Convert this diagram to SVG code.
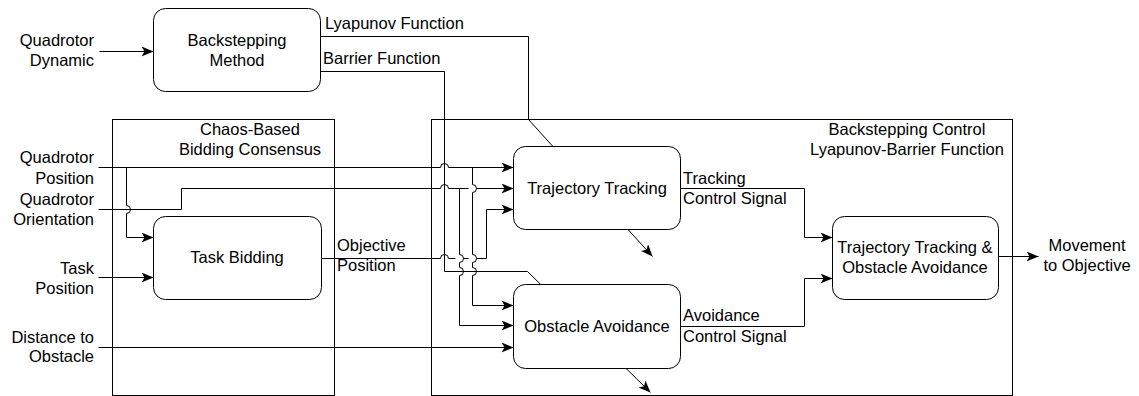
<svg xmlns="http://www.w3.org/2000/svg" width="1139" height="396" viewBox="0 0 1139 396">
<defs>
<marker id="arr" markerUnits="userSpaceOnUse" viewBox="0 0 12 10" refX="12" refY="5" markerWidth="12" markerHeight="10" orient="auto">
<path d="M0,0 L12,5 L0,10 L3,5 Z" fill="#000"/>
</marker>
<style>
.box{fill:#fff;stroke:#000;stroke-width:1}
.cont{fill:none;stroke:#000;stroke-width:1}
.e{fill:none;stroke:#000;stroke-width:1}
.a{marker-end:url(#arr)}
text{font-family:"Liberation Sans",Arial,sans-serif;font-size:16.5px;fill:#000}
.c{text-anchor:middle}
.r{text-anchor:end}
</style>
</defs>
<rect width="1139" height="396" fill="#fff"/>
<g id="chaos-container" transform="translate(0.5,0.5)">
<rect class="cont" x="112" y="119" width="222" height="276"/>
</g>
<g id="control-container" transform="translate(0.5,0.5)">
<rect class="cont" x="431" y="119" width="581" height="276"/>
</g>
<g id="connectors" transform="translate(0.5,0.5)">
<path class="e a" d="M99,51 H153"/>
<path class="e a" d="M320,36 H528 V119 L652,256"/>
<path class="e a" d="M320,71 H444 V271 H527 L650,392"/>
<path class="e a" d="M98,167 H440 A4,4 0 0 1 448,167 H513"/>
<path class="e a" d="M126,167 V205 A4,4 0 0 1 126,213 V237 H153"/>
<path class="e a" d="M472,167 V184 A4,4 0 0 1 472,192 V254 A4,4 0 0 1 472,262 V267 A4,4 0 0 1 472,275 V305 H513"/>
<path class="e a" d="M98,209 H181 V188 H440 A4,4 0 0 1 448,188 H468 M476,188 H513"/>
<path class="e a" d="M459,188 V254 A4,4 0 0 1 459,262 V267 A4,4 0 0 1 459,275 V325 H513"/>
<path class="e a" d="M321,258 H440 A4,4 0 0 1 448,258 H455 M463,258 H468 M476,258 H486 V209 H513"/>
<path class="e a" d="M98,277 H153"/>
<path class="e a" d="M98,347 H513"/>
<path class="e a" d="M680,188 H804 V237 H832"/>
<path class="e a" d="M680,326 H804 V278 H832"/>
<path class="e a" d="M998,256 H1038"/>
</g>
<g id="backstepping-method" transform="translate(0.5,0.5)">
<rect class="box" x="153" y="8" width="167" height="83" rx="12"/>
</g>
<g id="task-bidding" transform="translate(0.5,0.5)">
<rect class="box" x="153" y="216" width="168" height="83" rx="12"/>
</g>
<g id="trajectory-tracking" transform="translate(0.5,0.5)">
<rect class="box" x="513" y="146" width="167" height="83" rx="12"/>
</g>
<g id="obstacle-avoidance" transform="translate(0.5,0.5)">
<rect class="box" x="513" y="284" width="167" height="84" rx="12"/>
</g>
<g id="combined" transform="translate(0.5,0.5)">
<rect class="box" x="832" y="216" width="166" height="83" rx="12"/>
</g>
<g id="labels">
<text class="c" x="237" y="46">Backstepping</text>
<text class="c" x="237" y="66">Method</text>
<text class="c" x="237" y="263">Task Bidding</text>
<text class="c" x="597" y="194">Trajectory Tracking</text>
<text class="c" x="597" y="332">Obstacle Avoidance</text>
<text class="c" x="915" y="253">Trajectory Tracking &amp;</text>
<text class="c" x="915" y="273">Obstacle Avoidance</text>
<text class="c" x="250" y="135">Chaos-Based</text>
<text class="c" x="250" y="155">Bidding Consensus</text>
<text class="c" x="907" y="135">Backstepping Control</text>
<text class="c" x="907" y="155">Lyapunov-Barrier Function</text>
<text x="325" y="29">Lyapunov Function</text>
<text x="323" y="64">Barrier Function</text>
<text x="337" y="251">Objective</text>
<text x="337" y="271">Position</text>
<text x="683" y="184">Tracking</text>
<text x="683" y="204">Control Signal</text>
<text x="683" y="321">Avoidance</text>
<text x="683" y="342">Control Signal</text>
<text class="c" x="1087" y="251">Movement</text>
<text class="c" x="1087" y="271">to Objective</text>
<text class="r" x="94" y="46">Quadrotor</text>
<text class="r" x="94" y="66">Dynamic</text>
<text class="r" x="94" y="163">Quadrotor</text>
<text class="r" x="94" y="184">Position</text>
<text class="r" x="94" y="205">Quadrotor</text>
<text class="r" x="94" y="225">Orientation</text>
<text class="r" x="94" y="274">Task</text>
<text class="r" x="94" y="294">Position</text>
<text class="r" x="94" y="343">Distance to</text>
<text class="r" x="94" y="362">Obstacle</text>
</g>
</svg>
